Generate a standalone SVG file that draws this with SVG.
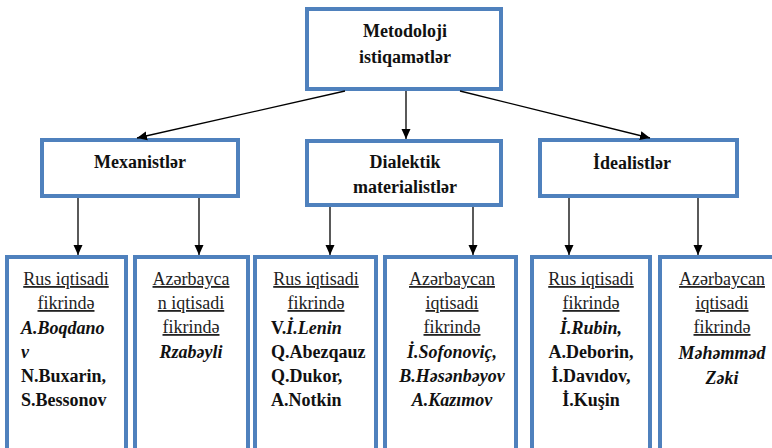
<svg xmlns="http://www.w3.org/2000/svg" width="772" height="448" viewBox="0 0 772 448">
<style>
.box{fill:#fff;stroke:#4F81BD;stroke-width:4}
.head{font-family:"Liberation Serif","Times New Roman",serif;font-weight:bold;font-size:18px;fill:#111;text-anchor:middle}
.t{font-family:"Liberation Serif","Times New Roman",serif;font-size:18px;fill:#222}
.u{text-decoration:underline}
.b{font-weight:bold;fill:#111}
.bi{font-weight:bold;font-style:italic;fill:#111}
.c{text-anchor:middle}
.s{text-anchor:start}
.conn line{stroke:#000;stroke-width:1.3}
</style>
<defs>
<marker id="ah" viewBox="0 0 10 10" refX="10" refY="5" markerWidth="10" markerHeight="10" markerUnits="userSpaceOnUse" orient="auto">
<path d="M0,0.5 L10,5 L0,9.5 z" fill="#000"/>
</marker>
</defs>
<rect width="772" height="448" fill="#fff"/>

<g id="root">
<rect class="box" x="307" y="9" width="194" height="80"/>
<text class="head" x="405" y="37">Metodoloji</text>
<text class="head" x="405" y="63">istiqamətlər</text>
</g>

<g id="mexanistler">
<rect class="box" x="42" y="140" width="196" height="56"/>
<text class="head" x="140" y="168">Mexanistlər</text>
</g>

<g id="dialektik">
<rect class="box" x="307" y="141" width="194" height="64"/>
<text class="head" x="405" y="168">Dialektik</text>
<text class="head" x="405" y="193">materialistlər</text>
</g>

<g id="idealistler">
<rect class="box" x="540" y="140" width="197" height="56"/>
<text class="head" x="632" y="169">İdealistlər</text>
</g>

<g id="mex-rus">
<rect class="box" x="7" y="257" width="119" height="200"/>
<text class="t u c" x="66" y="285">Rus iqtisadi</text>
<text class="t u c" x="66" y="309">fikrində</text>
<text class="t bi s" x="21" y="334">A.Boqdano</text>
<text class="t bi s" x="21" y="358">v</text>
<text class="t b s" x="21" y="382">N.Buxarin,</text>
<text class="t b s" x="21" y="406">S.Bessonov</text>
</g>

<g id="mex-az">
<rect class="box" x="135" y="257" width="113" height="200"/>
<text class="t u c" x="191" y="285">Azərbayca</text>
<text class="t u c" x="191" y="309">n iqtisadi</text>
<text class="t u c" x="191" y="333">fikrində</text>
<text class="t bi c" x="191" y="358">Rzabəyli</text>
</g>

<g id="dia-rus">
<rect class="box" x="255" y="257" width="121" height="200"/>
<text class="t u c" x="316" y="285">Rus iqtisadi</text>
<text class="t u c" x="316" y="309">fikrində</text>
<text class="t b s" x="271" y="334">V.<tspan class="bi">İ.Lenin</tspan></text>
<text class="t b s" x="271" y="358">Q.Abezqauz</text>
<text class="t b s" x="271" y="382">Q.Dukor,</text>
<text class="t b s" x="271" y="406">A.Notkin</text>
</g>

<g id="dia-az">
<rect class="box" x="385" y="257" width="131" height="200"/>
<text class="t u c" x="452" y="285">Azərbaycan</text>
<text class="t u c" x="452" y="309">iqtisadi</text>
<text class="t u c" x="452" y="333">fikrində</text>
<text class="t bi c" x="452" y="358">İ.Sofonoviç,</text>
<text class="t bi c" x="452" y="382">B.Həsənbəyov</text>
<text class="t bi c" x="452" y="406">A.Kazımov</text>
</g>

<g id="ide-rus">
<rect class="box" x="532" y="257" width="118" height="200"/>
<text class="t u c" x="591" y="285">Rus iqtisadi</text>
<text class="t u c" x="591" y="309">fikrində</text>
<text class="t bi c" x="591" y="334">İ.Rubin<tspan class="b">,</tspan></text>
<text class="t b c" x="591" y="358">A.Deborin,</text>
<text class="t b c" x="591" y="382">İ.Davıdov,</text>
<text class="t b c" x="591" y="406">İ.Kuşin</text>
</g>

<g id="ide-az">
<rect class="box" x="660" y="257" width="122" height="200"/>
<text class="t u c" x="722" y="285">Azərbaycan</text>
<text class="t u c" x="722" y="309">iqtisadi</text>
<text class="t u c" x="722" y="333">fikrində</text>
<text class="t bi c" x="722" y="359">Məhəmməd</text>
<text class="t bi c" x="722" y="384">Zəki</text>
</g>

<g id="connectors" class="conn">
<line x1="345" y1="91" x2="137" y2="138" marker-end="url(#ah)"/>
<line x1="406" y1="91" x2="406" y2="139" marker-end="url(#ah)"/>
<line x1="460" y1="91" x2="650" y2="138" marker-end="url(#ah)"/>
<line x1="78" y1="198" x2="78" y2="255" marker-end="url(#ah)"/>
<line x1="199" y1="198" x2="199" y2="255" marker-end="url(#ah)"/>
<line x1="330" y1="207" x2="330" y2="255" marker-end="url(#ah)"/>
<line x1="473" y1="207" x2="473" y2="255" marker-end="url(#ah)"/>
<line x1="569" y1="198" x2="569" y2="255" marker-end="url(#ah)"/>
<line x1="698" y1="198" x2="698" y2="255" marker-end="url(#ah)"/>
</g>
</svg>
